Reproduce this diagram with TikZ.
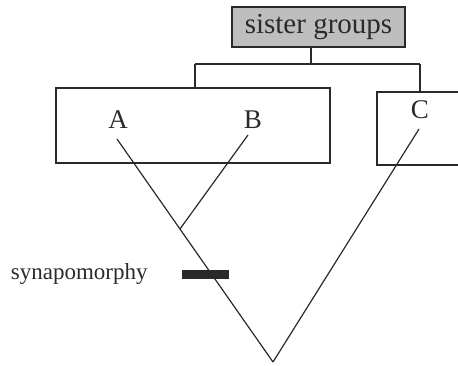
\documentclass[tikz,border=0pt]{standalone}
\usepackage{fontspec}
\setmainfont{Liberation Serif}
\usepackage{tikz}
\usetikzlibrary{positioning, calc}
\definecolor{inkgray}{HTML}{2A2A2A}
\definecolor{boxgray}{HTML}{BEBEBE}

\tikzset{
    line/.style={inkgray, line width=1.2pt},
    groupbox/.style={draw=inkgray, line width=1.2pt, rectangle, inner sep=0pt},
    taxon/.style={text=inkgray, font=\fontsize{27}{27}\selectfont, inner sep=1pt},
}

\begin{document}
\begin{tikzpicture}[x=1pt, y=-1pt]
    \useasboundingbox (0,0) rectangle (458,365);
    % Title box
    \node[groupbox, fill=boxgray, line width=1.6pt, minimum width=173pt, minimum height=40pt,
          text=inkgray, font=\fontsize{29}{29}\selectfont] (sister) at (318.5,27) {sister groups};
    % Group boxes
    \node[groupbox, minimum width=274pt, minimum height=75pt] (boxAB) at (193,125.5) {};
    \node[groupbox, minimum width=93pt, minimum height=73pt] (boxC) at (423.5,128.5) {};

    % Bracket
    \coordinate (fork) at (311,64);
    \coordinate (forkL) at (195,64);
    \coordinate (forkR) at (420,64);
    \draw[line] (fork |- sister.south) -- (fork);
    \draw[line] (forkL) -- (forkR);
    \draw[line] (forkL) -- (forkL |- boxAB.north);
    \draw[line] (forkR) -- (forkR |- boxC.north);

    % Taxa
    \node[taxon] (A) at (118,120) {A};
    \node[taxon] (B) at (253,120) {B};
    \node[taxon] (C) at (420,110) {C};

    % Tree
    \coordinate (root) at (273,362);
    \coordinate (tipA) at (117,139);
    \coordinate (tipB) at (248,135);
    \coordinate (tipC) at (419,129);
    \coordinate (join) at ($(root)!0.5964!(tipA)$);
    \draw[line] (root) -- (tipA);
    \draw[line] (join) -- (tipB);
    \draw[line] (root) -- (tipC);

    % Synapomorphy
    \node[fill=inkgray, minimum width=47pt, minimum height=9pt, inner sep=0pt] (apo) at (205.5,274) {};
    \node[text=inkgray, font=\fontsize{23}{23}\selectfont, inner sep=0pt, left=34pt of apo] (apolabel) {synapomorphy};
\end{tikzpicture}
\end{document}
